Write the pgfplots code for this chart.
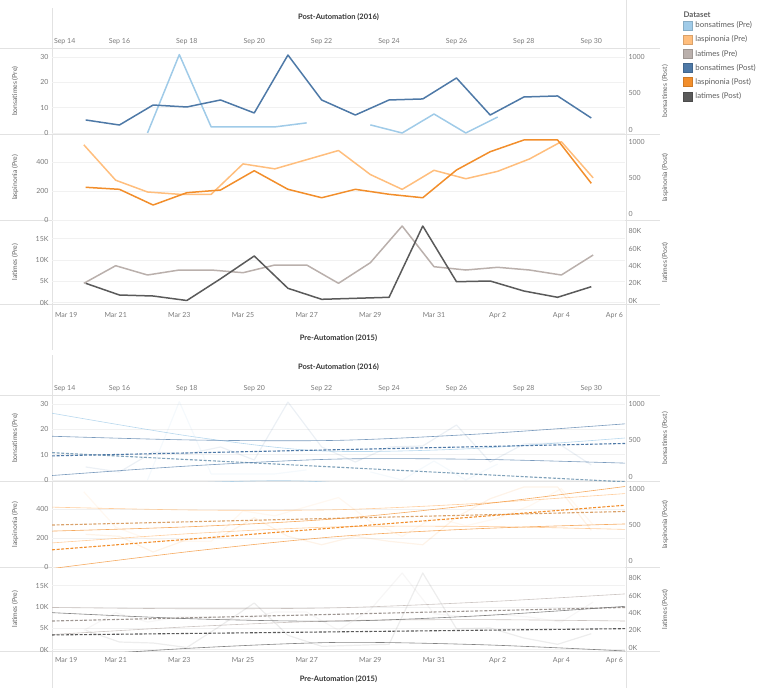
\documentclass[border=0pt]{standalone}
\usepackage{pgfplots}
\usepackage{pgfplotstable}
\pgfplotsset{compat=1.18}
\usepackage{fontspec}
\setmainfont{Lato}
\definecolor{bPre}{HTML}{A0CBE8}
\definecolor{lPre}{HTML}{FFBE7D}
\definecolor{tPre}{HTML}{BAB0AC}
\definecolor{bPost}{HTML}{4E79A7}
\definecolor{lPost}{HTML}{F28E2B}
\definecolor{tPost}{HTML}{5A5A5A}
\definecolor{sepc}{HTML}{E2E2E2}
\definecolor{gridc}{HTML}{F1F1F1}
\definecolor{tickc}{HTML}{7A7A7A}
\definecolor{labc}{HTML}{5E5E5E}
\definecolor{ttlc}{HTML}{333333}

% Pre-Automation (2015): x = days after Mar 19
\pgfplotstableread{
x bons lasp lat
1 nan 517 4507
2 nan 274 8638
3 0 193 6455
4 31 177 7629
5 2.4 177 7629
6 2.4 386 6995
7 2.4 352 8803
8 4 415 8803
9 nan 478 4507
10 3.2 313 9343
11 0 211 17958
12 7.5 342 8404
13 0 284 7629
14 6.3 335 8263
15 nan 420 7629
16 nan 539 6455
17 nan 290 11150
}\preTab

% Post-Automation (2016): x = days after Sep 14
\pgfplotstableread{
x bons lasp lat
1 137 371 19884
2 68 343 6358
3 342 125 5202
4 315 296 0
5 411 333 25087
6 233 601 51445
7 1027 343 14104
8 411 226 1387
9 205 343 2543
10 411 274 3699
11 425 226 86127
12 712 611 21734
13 205 865 22543
14 452 1028 10983
15 466 1028 3699
16 164 426 15954
}\postTab

\pgfplotsset{
  cell/.style={scale only axis, width=573pt, clip=true,
    axis line style={draw=none}, major tick length=0pt,
    scaled y ticks=false, scaled x ticks=false,
    tick label style={font=\fontsize{7}{8}\selectfont, text=tickc},
    label style={font=\fontsize{6.8}{8}\selectfont, text=labc},
    unbounded coords=jump},
  pos/.style n args={2}{at={(52pt,-#1pt)}, anchor=south west, height=#2pt},
  pre/.style={cell, xmin=0, xmax=18, axis y line*=left, axis x line*=bottom,
    ymajorgrids, grid style={gridc, line width=0.5pt},
    ylabel style={at={(axis description cs:-0.0646,0.5)}, anchor=center}},
  post/.style={cell, xmin=0, xmax=17, axis y line*=right, axis x line*=top,
    ylabel style={at={(axis description cs:1.0698,0.5)}, anchor=center}},
  prex/.style={xtick={0,2,...,18},
    xticklabels={{\makebox[0pt][l]{\hspace{3pt}Mar 19}},Mar 21,Mar 23,Mar 25,Mar 27,Mar 29,Mar 31,Apr 2,Apr 4,{\makebox[0pt][r]{Apr 6\hspace{2pt}}}},
    xticklabel style={yshift=-5pt}},
  postx/.style={xtick={0,2,...,16},
    xticklabels={{\makebox[0pt][l]{\hspace{2pt}Sep 14}},Sep 16,Sep 18,Sep 20,Sep 22,Sep 24,Sep 26,Sep 28,Sep 30}},
  r1l/.style={ymin=-0.6, ymax=33.6, ytick={0,10,20,30}, yticklabels={0,10,20,30}, ylabel={bonsatimes (Pre)}},
  r1r/.style={ymin=-62, ymax=1123, ytick={0,500,1000}, yticklabels={0,500,1000}, ylabel={bonsatimes (Post)}},
  r2l/.style={ymin=-3, ymax=588, ytick={0,200,400}, yticklabels={0,200,400}, ylabel={laspinonia (Pre)}},
  r2r/.style={ymin=-90, ymax=1104, ytick={0,500,1000}, yticklabels={0,500,1000}, ylabel={laspinonia (Post)}},
  r3l/.style={ymin=-352, ymax=19250, ytick={0,5000,10000,15000}, yticklabels={0K,5K,10K,15K}, ylabel={latimes (Pre)}},
  r3r/.style={ymin=-4046, ymax=92486, ytick={0,20000,40000,60000,80000}, yticklabels={0K,20K,40K,60K,80K}, ylabel={latimes (Post)}},
  dl/.style={line width=1.5pt, line join=round},
  faint/.style={line width=1.2pt, opacity=0.11, line join=round},
  trend/.style={line width=1.1pt, dash pattern=on 3pt off 1.6pt},
  band/.style={line width=0.6pt, smooth, opacity=0.75},
}

\begin{document}
\begin{tikzpicture}
\path[use as bounding box] (0pt,0pt) rectangle (765pt,-688pt);
% separators
\foreach \y in {48,134.5,220.5,304,395,481.5,567.5,651}
  \draw[sepc, line width=0.6pt] (0pt,-\y pt) -- (660pt,-\y pt);
\draw[sepc, line width=0.6pt] (52pt,-8pt) -- (52pt,-350pt);
\draw[sepc, line width=0.6pt] (52pt,-355pt) -- (52pt,-688pt);
\draw[sepc, line width=0.6pt] (626pt,0pt) -- (626pt,-688pt);
% titles
\node[font=\fontsize{7.5}{9}\selectfont\bfseries, text=ttlc] at (338.5pt,-17pt) {Post-Automation (2016)};
\node[font=\fontsize{7.5}{9}\selectfont\bfseries, text=ttlc] at (338.5pt,-338pt) {Pre-Automation (2015)};
\node[font=\fontsize{7.5}{9}\selectfont\bfseries, text=ttlc] at (338.5pt,-367pt) {Post-Automation (2016)};
\node[font=\fontsize{7.5}{9}\selectfont\bfseries, text=ttlc] at (338.5pt,-679pt) {Pre-Automation (2015)};
\node[font=\fontsize{7.8}{9}\selectfont\bfseries, text=labc, anchor=west] at (680pt,-15pt) {Dataset};

% ================= PANEL 1 =================
% row 1
\begin{axis}[pre, pos={134.5}{86.5}, r1l, xtick=\empty]
\addplot[bPre, dl] table[x=x,y=bons]{\preTab};
\end{axis}
\begin{axis}[post, pos={134.5}{86.5}, r1r, postx,
  legend style={at={(axis description cs:1.101,1.318)}, anchor=north west, draw=none, fill=none, inner sep=0pt,
    font=\fontsize{7.8}{9}\selectfont, text=labc, row sep=4.6pt, nodes={inner sep=1pt},
    /tikz/every odd column/.append style={column sep=2pt}},
  legend cell align=left,
  legend image code/.code={\draw[#1] (0pt,-4.5pt) rectangle (9pt,4.5pt);}]
\addplot[bPost, dl, forget plot] table[x=x,y=bons]{\postTab};
\addlegendimage{fill=bPre, draw=bPre!85!black}\addlegendentry{bonsatimes (Pre)}
\addlegendimage{fill=lPre, draw=lPre!85!black}\addlegendentry{laspinonia (Pre)}
\addlegendimage{fill=tPre, draw=tPre!85!black}\addlegendentry{latimes (Pre)}
\addlegendimage{fill=bPost, draw=bPost!85!black}\addlegendentry{bonsatimes (Post)}
\addlegendimage{fill=lPost, draw=lPost!85!black}\addlegendentry{laspinonia (Post)}
\addlegendimage{fill=tPost, draw=tPost!85!black}\addlegendentry{latimes (Post)}
\end{axis}
% row 2
\begin{axis}[pre, pos={220.5}{86}, r2l, xtick=\empty]
\addplot[lPre, dl] table[x=x,y=lasp]{\preTab};
\end{axis}
\begin{axis}[post, pos={220.5}{86}, r2r, xtick=\empty]
\addplot[lPost, dl] table[x=x,y=lasp]{\postTab};
\end{axis}
% row 3
\begin{axis}[pre, pos={304}{83.5}, r3l, prex]
\addplot[tPre, dl] table[x=x,y=lat]{\preTab};
\end{axis}
\begin{axis}[post, pos={304}{83.5}, r3r, xtick=\empty]
\addplot[tPost, dl] table[x=x,y=lat]{\postTab};
\end{axis}

% ================= PANEL 2 (trend lines) =================
% row 1
\begin{axis}[pre, pos={481.5}{86.5}, r1l, xtick=\empty]
\addplot[bPre, faint] table[x=x,y=bons]{\preTab};
\addplot[bPre, band] coordinates {(0,26.4)(4.5,17.0)(8.45,11.5)(13,12.3)(18,16.6)};
\addplot[bPre, band] coordinates {(0,-4.8)(4.5,-1.1)(8.45,-0.7)(13,-7.3)(18,-18.0)};
\addplot[bPre!80!black, trend] coordinates {(0,10.8)(18,-0.72)};
\end{axis}
\begin{axis}[post, pos={481.5}{86.5}, r1r, postx]
\addplot[bPost, faint] table[x=x,y=bons]{\postTab};
\addplot[bPost, band] coordinates {(0,558)(4.25,506)(8.5,502)(12.75,591)(17,728)};
\addplot[bPost, band] coordinates {(0,20)(4.25,156)(8.5,246)(12.75,241)(17,190)};
\addplot[bPost, trend] coordinates {(0,289)(17,459)};
\end{axis}
% row 2
\begin{axis}[pre, pos={567.5}{86}, r2l, xtick=\empty]
\addplot[lPre, faint] table[x=x,y=lasp]{\preTab};
\addplot[lPre, band] coordinates {(0,412)(4.5,392)(9,394.5)(13.5,439)(18,505)};
\addplot[lPre, band] coordinates {(0,166)(4.5,232)(9,276.5)(13.5,279)(18,259)};
\addplot[lPre!85!black, trend] coordinates {(0,289)(18,382)};
\end{axis}
\begin{axis}[post, pos={567.5}{86}, r2r, xtick=\empty]
\addplot[lPost, faint] table[x=x,y=lasp]{\postTab};
\addplot[lPost, band] coordinates {(0,415.5)(4.25,479)(8.5,589)(12.75,789)(17,1034.5)};
\addplot[lPost, band] coordinates {(0,-104.5)(4.25,141)(8.5,341)(12.75,451)(17,514.5)};
\addplot[lPost, trend] coordinates {(0,155.5)(17,774.5)};
\end{axis}
% row 3
\begin{axis}[pre, pos={651}{83.5}, r3l, prex, xticklabel style={yshift=2pt}]
\addplot[tPre, faint] table[x=x,y=lat]{\preTab};
\addplot[tPre, band] coordinates {(0,9870)(4.5,9560)(9,9800)(13.5,11150)(18,13050)};
\addplot[tPre, band] coordinates {(0,3510)(4.5,5420)(9,6760)(13.5,7010)(18,6690)};
\addplot[tPre!85!black, trend] coordinates {(0,6690)(18,9870)};
\end{axis}
\begin{axis}[post, pos={651}{83.5}, r3r, xtick=\empty]
\addplot[tPost, faint] table[x=x,y=lat]{\postTab};
\addplot[tPost, band] coordinates {(0,40300)(4.25,33100)(8.5,30500)(12.75,36800)(17,47600)};
\addplot[tPost, band] coordinates {(0,-11300)(4.25,-500)(8.5,5900)(12.75,3200)(17,-4000)};
\addplot[tPost, trend] coordinates {(0,14500)(17,21800)};
\end{axis}
\end{tikzpicture}
\end{document}
